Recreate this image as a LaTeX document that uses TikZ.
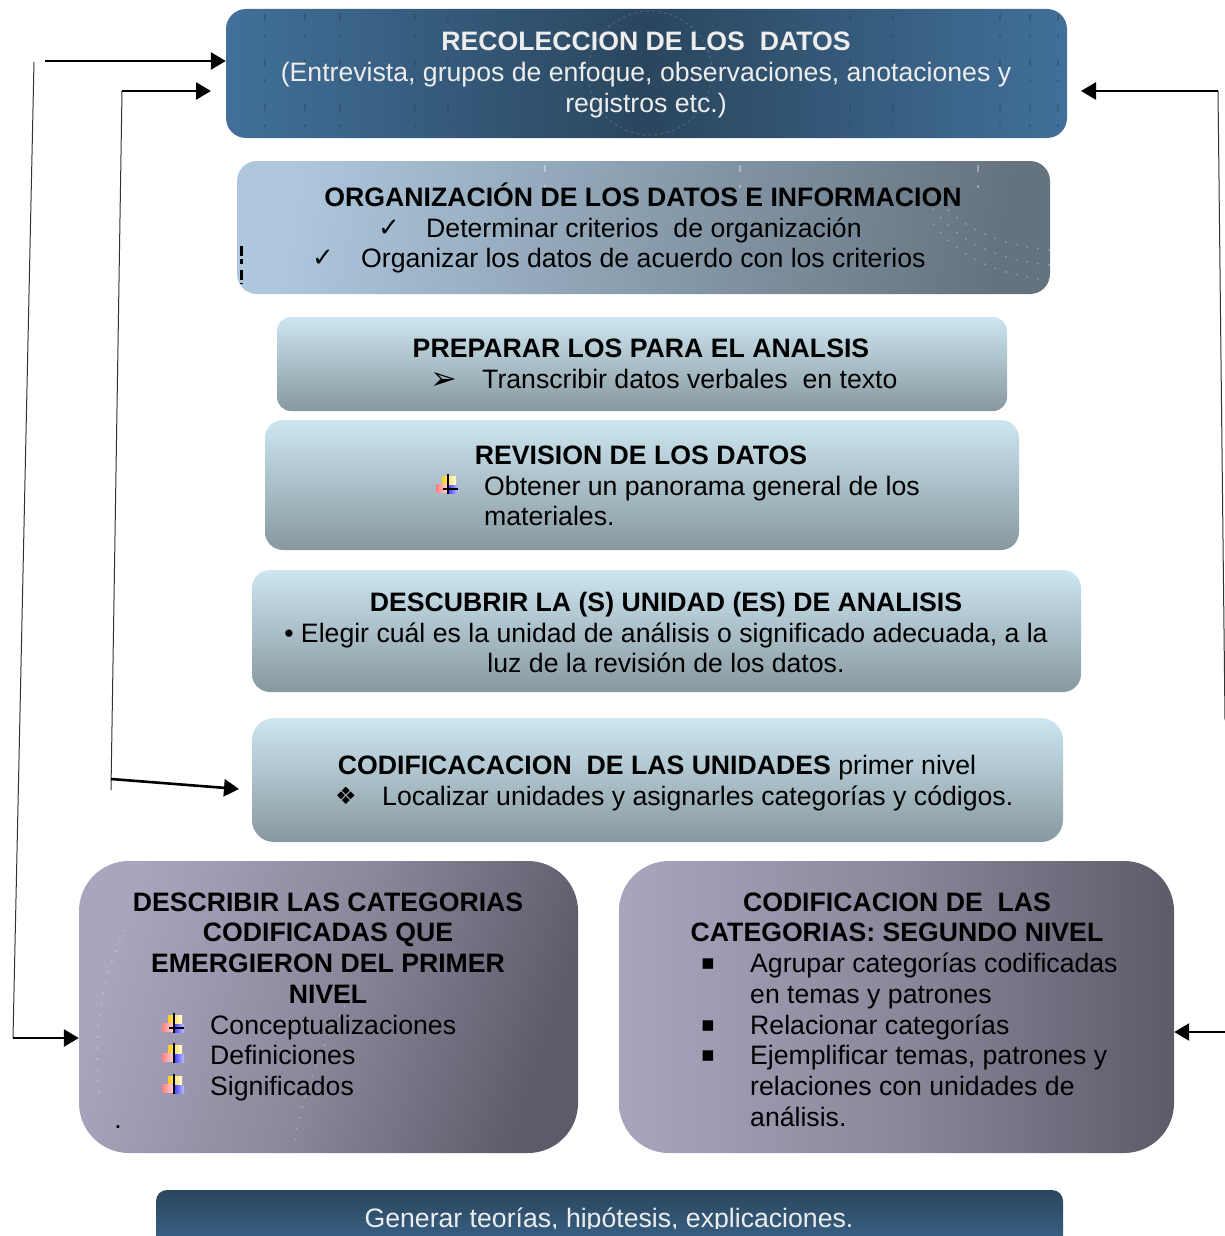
\documentclass[tikz,border=0pt]{standalone}
\usepackage{fontspec}
\setmainfont{Liberation Sans}
\newfontfamily\simbolos{DejaVu Sans}
\usetikzlibrary{arrows.meta}
\tikzset{>={Stealth[inset=0pt,length=15pt,width=17pt]}}
\definecolor{azulclaro}{HTML}{41709A}
\definecolor{azuloscuro}{HTML}{2A465E}
\definecolor{celeste}{HTML}{AEC7DD}
\definecolor{pizarra}{HTML}{65737F}
\definecolor{hielo}{HTML}{CDE6F1}
\definecolor{acero}{HTML}{87989F}
\definecolor{lila}{HTML}{A9A5BE}
\definecolor{lilamedio}{HTML}{8B889C}
\definecolor{lilaoscuro}{HTML}{5E5A69}
\definecolor{amarillo}{HTML}{FFCC22}
\tikzset{
    caja/.style={inner sep=0pt, minimum width=#1},
    cajaazul/.style={caja=#1, rounded corners=20pt, left color=azulclaro, right color=azulclaro, middle color=azuloscuro},
    cajagris/.style={caja=#1, rounded corners=20pt, left color=celeste, right color=pizarra, shading angle=80},
    cajacian/.style={caja=#1, rounded corners=18pt, top color=hielo, bottom color=acero},
    cajalila/.style={caja=#1, rounded corners=50pt, left color=lila, right color=lilaoscuro, middle color=lilamedio},
    titulo/.style={anchor=base, inner sep=0pt, font=\fontsize{26.65}{31}\selectfont\bfseries},
    linea/.style={anchor=base, inner sep=0pt, font=\fontsize{26.65}{31}\selectfont},
    item/.style={anchor=base west, inner sep=0pt, font=\fontsize{26.65}{31}\selectfont},
    vineta/.style={anchor=base, inner sep=0pt, font=\fontsize{#1}{31}\selectfont\simbolos},
    fina/.style={black!80, line width=1pt},
    flecha/.style={->, black, line width=2.6pt},
    mota/.style={azuloscuro, opacity=0.45, line width=1.6pt, dash pattern=on 7pt off 13pt on 3pt off 22pt},
    puntos/.style={white, opacity=0.25, line width=1.5pt, dash pattern=on 2pt off 9pt},
    cuadros/.pic={
        \shade[left color=amarillo, right color=yellow!15] (-6,-9) rectangle (8,0);
        \shade[left color=red!50, right color=red!15] (-12,-1) rectangle (0,7);
        \shade[left color=blue!80, right color=blue!25] (-1,0) rectangle (10,8);
        \draw[line width=2pt] (0,-11) -- (0,9);
    },
    cuadroscruz/.pic={
        \pic {cuadros};
        \draw[line width=1.6pt] (-5,4) -- (10,4);
    }
}
\begin{document}
\begin{tikzpicture}[x=1pt, y=-1pt]
    \useasboundingbox (0,0) rectangle (1225,1236);
    \clip (0,0) rectangle (1225,1236);

    \node (recoleccion) [cajaazul=841pt, minimum height=129pt] at (646.5,73.5) {};
    \node (organizacion) [cajagris=813pt, minimum height=133pt] at (643.5,227.5) {};
    \node (preparar) [cajacian=730pt, minimum height=94pt, rounded corners=14pt] at (642,364) {};
    \node (revision) [cajacian=754pt, minimum height=130pt] at (642,485) {};
    \node (descubrir) [cajacian=829pt, minimum height=122pt] at (666.5,631) {};
    \node (unidades) [cajacian=811pt, minimum height=124pt, rounded corners=22pt] at (657.5,780) {};
    \node (describir) [cajalila=499pt, minimum height=292pt, shading angle=72] at (328.5,1007) {};
    \node (categorias) [cajalila=555pt, minimum height=292pt] at (896.5,1007) {};
    \node (generar) [caja=907pt, minimum height=80pt, rounded corners=11pt, top color=azuloscuro, bottom color=azulclaro] at (609.5,1230) {};

    \foreach \x in {265,305,340,415,448,850,893,1000,1030,1058}
        \draw[mota] (\x,14) -- (\x,134);
    \draw[white, opacity=0.15, line width=1pt, dashed] (650,73) circle (62);
    \foreach \x in {545,740,978}
        \draw[mota, white, opacity=0.35] (\x,165) -- (\x,200);
    \draw[black, line width=3pt, dash pattern=on 10pt off 3pt on 5pt off 6pt] (241,246) -- (241,284);
    \foreach \r in {60,75,90}
        \draw[puntos] (1050,190+\r) .. controls (1000,185+\r) and (960,170+\r) .. (930,130+\r);
    \draw[puntos] (125,930) .. controls (100,980) and (92,1040) .. (100,1100);
    \draw[puntos] (345,1005) .. controls (320,1050) and (300,1100) .. (294,1148);

    \node (rec1) [titulo, white!93!black] at (646,51) {RECOLECCION DE LOS\ \ DATOS};
    \node (rec2) [linea, white!93!black] at (646,82) {(Entrevista, grupos de enfoque, observaciones, anotaciones y};
    \node (rec3) [linea, white!93!black] at (646,113) {registros etc.)};

    \node (org1) [titulo] at (643,206) {ORGANIZACIÓN DE LOS DATOS E INFORMACION};
    \node (orgv1) [vineta=26] at (389,236) {✓};
    \node (org2) [item] at (426,237) {Determinar criterios\ \ de organización};
    \node (orgv2) [vineta=26] at (323,266) {✓};
    \node (org3) [item] at (361,267) {Organizar los datos de acuerdo con los criterios};

    \node (pre1) [titulo] at (641,357) {PREPARAR LOS PARA EL ANALSIS};
    \node (prev1) [vineta=32] at (444,389) {➢};
    \node (pre2) [item] at (482,388) {Transcribir datos verbales\ \ en texto};

    \node (rev1) [titulo] at (641,464) {REVISION DE LOS DATOS};
    \pic (revv1) at (448,485) {cuadroscruz};
    \node (rev2) [item] at (484,495) {Obtener un panorama general de los};
    \node (rev3) [item] at (484,525) {materiales.};

    \node (des1) [titulo] at (666,611) {DESCUBRIR LA (S) UNIDAD (ES) DE ANALISIS};
    \node (des2) [linea] at (666,642) {• Elegir cuál es la unidad de análisis o significado adecuada, a la};
    \node (des3) [linea] at (666,672) {luz de la revisión de los datos.};

    \node (uni1) [linea] at (657,774) {\bfseries CODIFICACACION\ \ DE LAS UNIDADES \mdseries primer nivel};
    \node (univ1) [vineta=24] at (346,804) {❖};
    \node (uni2) [item] at (382,805) {Localizar unidades y asignarles categorías y códigos.};

    \node (dcr1) [titulo] at (328,911) {DESCRIBIR LAS CATEGORIAS};
    \node (dcr2) [titulo] at (328,941) {CODIFICADAS QUE};
    \node (dcr3) [titulo] at (328,972) {EMERGIERON DEL PRIMER};
    \node (dcr4) [titulo] at (328,1003) {NIVEL};
    \pic (dcrv1) at (174,1024) {cuadroscruz};
    \node (dcr5) [item] at (210,1034) {Conceptualizaciones};
    \pic (dcrv2) at (174,1054) {cuadros};
    \node (dcr6) [item] at (210,1064) {Definiciones};
    \pic (dcrv3) at (174,1085) {cuadros};
    \node (dcr7) [item] at (210,1095) {Significados};
    \node (dcr8) [linea] at (118,1128) {.};

    \node (cat1) [titulo] at (897,911) {CODIFICACION DE\ \ LAS};
    \node (cat2) [titulo] at (897,941) {CATEGORIAS: SEGUNDO NIVEL};
    \node (catv1) [vineta=21] at (708,969) {▪};
    \node (cat3) [item] at (750,972) {Agrupar categorías codificadas};
    \node (cat4) [item] at (750,1003) {en temas y patrones};
    \node (catv2) [vineta=21] at (708,1031) {▪};
    \node (cat5) [item] at (750,1034) {Relacionar categorías};
    \node (catv3) [vineta=21] at (708,1061) {▪};
    \node (cat6) [item] at (750,1064) {Ejemplificar temas, patrones y};
    \node (cat7) [item] at (750,1095) {relaciones con unidades de};
    \node (cat8) [item] at (750,1126) {análisis.};

    \begin{scope}
        \clip (156,1190) rectangle (1063,1228);
        \node (gen1) [linea, white!93!black] at (609,1227) {Generar teorías, hipótesis, explicaciones.};
    \end{scope}

    \coordinate (a1) at (45,61);
    \coordinate (a2) at (34,62);
    \coordinate (a3) at (13,1038);
    \coordinate (b1) at (122,91);
    \coordinate (b2) at (211,91);
    \coordinate (b3) at (111,790);
    \coordinate (b4) at (111,779);
    \coordinate (b5) at (239,789);
    \coordinate (c1) at (1218,91);
    \coordinate (c2) at (1081,91);
    \coordinate (c3) at (1225,720);
    \coordinate (c4) at (1225,1032);

    \draw[flecha] (a1) -- (a1 -| recoleccion.west);
    \draw[fina] (a2) -- (a3);
    \draw[flecha] (a3) -- (a3 -| describir.west);
    \draw[fina] (b3) -- (b1);
    \draw[flecha] (b1) -- (b2);
    \draw[flecha] (b4) -- (b5);
    \draw[fina] (c3) -- (c1);
    \draw[flecha] (c1) -- (c2);
    \draw[flecha] (c4) -- (c4 -| categorias.east);
\end{tikzpicture}
\end{document}
